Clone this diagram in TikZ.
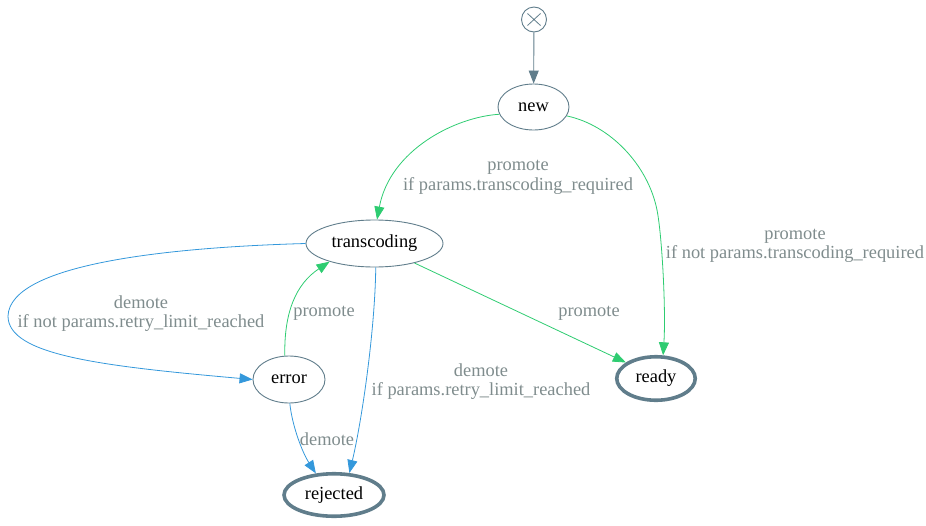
\documentclass[tikz,border=0pt]{standalone}
\usepackage{fontspec}
\setmainfont{Liberation Serif}
\usetikzlibrary{shapes.geometric,arrows.meta}
\definecolor{slate}{HTML}{607D8B}
\definecolor{okgreen}{HTML}{2ECC71}
\definecolor{badblue}{HTML}{3498DB}
\definecolor{lblgray}{HTML}{7F8C8D}
\tikzset{
  state/.style={ellipse, draw=slate, line width=0.9pt, inner sep=0pt, text=black,
    font=\fontsize{18.4}{19.5}\selectfont},
  final/.style={state, line width=3.6pt},
  lbl/.style={text=lblgray, align=center, inner sep=0pt, font=\fontsize{18.4}{19.5}\selectfont},
  tip/.style={-{Triangle[length=13pt,width=10pt]}},
  promo/.style={tip, draw=okgreen, line width=0.8pt},
  demo/.style={tip, draw=badblue, line width=0.8pt},
  startedge/.style={tip, draw=slate, line width=0.9pt},
}
\begin{document}
\begin{tikzpicture}[x=1pt,y=-1pt]
\useasboundingbox (0,0) rectangle (926,525);
% start
\node[circle, draw=slate, line width=0.9pt, minimum size=25pt, inner sep=0pt,
  path picture={\draw[slate, line width=0.8pt]
     ([shift={(-6.5pt,-6pt)}]path picture bounding box.center) -- ([shift={(6.5pt,6pt)}]path picture bounding box.center)
     ([shift={(-6.5pt,6pt)}]path picture bounding box.center) -- ([shift={(6.5pt,-6pt)}]path picture bounding box.center);}]
  (start) at (534,19.5) {};
% states
\node[state, minimum width=71pt, minimum height=46pt] (new) at (533.5,107) {\makebox[0pt]{new}};
\node[state, minimum width=137pt, minimum height=47pt] (transcoding) at (374.5,243.5) {\makebox[0pt]{transcoding}};
\node[state, minimum width=72pt, minimum height=47pt] (error) at (289,379.5) {\makebox[0pt]{error}};
\node[final, minimum width=100pt, minimum height=42.5pt] (rejected) at (334,495) {\makebox[0pt]{rejected}};
\node[final, minimum width=78.5pt, minimum height=43.5pt] (ready) at (656,378.5) {\makebox[0pt]{ready}};
% edges
\draw[startedge] (start) -- (new);
\draw[promo] (new.192) .. controls (455,117) and (390,150) .. (transcoding.84);
\draw[promo] (new.345) .. controls (610,125) and (648,165) .. (657,210)
   .. controls (662,235) and (666,310) .. (ready.73);
\draw[promo] (transcoding.334) -- (ready.152);
\draw[demo] (transcoding.west) .. controls (180,247) and (10,262) .. (8,316)
   .. controls (8,355) and (100,366) .. (error.west);
\draw[promo] (error.100) .. controls (284,312) and (296,284) .. (transcoding.202);
\draw[demo] (transcoding.273) .. controls (375,330) and (362,420) .. (rejected.55);
\draw[demo] (error.272) .. controls (292,425) and (302,452) .. (rejected.130);
% labels
\node[lbl] (l1) at (518,177.5) {promote\\if params.transcoding\_required};
\node[lbl] (l2) at (795,246) {promote\\if not params.transcoding\_required};
\node[lbl] (l3) at (589,313.5) {promote};
\node[lbl] (l4) at (481,381.5) {demote\\if params.retry\_limit\_reached};
\node[lbl] (l5) at (141,313.5) {demote\\if not params.retry\_limit\_reached};
\node[lbl] (l6) at (324,313.5) {promote};
\node[lbl] (l7) at (327,439.5) {demote};
\end{tikzpicture}
\end{document}
